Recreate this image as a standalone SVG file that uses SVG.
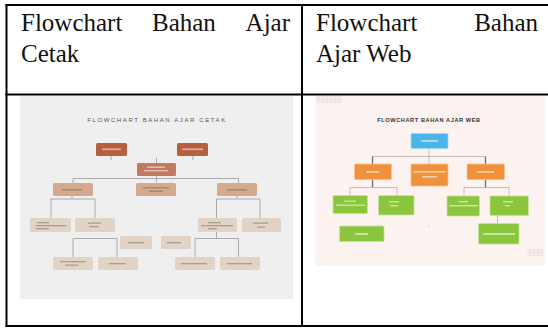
<svg xmlns="http://www.w3.org/2000/svg" width="548" height="329" viewBox="0 0 548 329">
  <style>
    .hd { font-family: "Liberation Serif", "Times New Roman", serif; font-size: 25px; fill: #111; }
    .rule { stroke: #000; stroke-width: 2; fill: none; }
    .ttl { font-family: "Liberation Sans", Arial, sans-serif; font-size: 6px; letter-spacing: 1.6px; fill: #555; text-anchor: middle; }
    .ttlw { font-family: "Liberation Sans", Arial, sans-serif; font-size: 5.6px; font-weight: bold; letter-spacing: 0.6px; fill: #333; text-anchor: middle; }
    .c1 { fill: #b5603f; }
    .c2 { fill: #c27a60; }
    .c3 { fill: #d5a98e; }
    .c4 { fill: #e2d3c7; }
    .lnk { stroke: #9a9a9a; stroke-width: 0.8; fill: none; }
    .lnkw { stroke: #b9b0ad; stroke-width: 0.8; fill: none; }
    .lnkd { stroke: #6a6a6a; stroke-width: 1.2; fill: none; }
    .blue { fill: #4db4e8; stroke: #9fd8f3; stroke-width: 0.8; }
    .orng { fill: #f0913c; stroke: #f7c08e; stroke-width: 0.8; }
    .grn { fill: #8cc63f; stroke: #c5e39b; stroke-width: 0.8; }
    .lbl { fill: #fff; opacity: 0.55; }
    .lbld { fill: #6d5a50; opacity: 0.45; }
    .grid { fill: none; stroke: #d6d0ce; stroke-width: 0.5; }
  </style>

  <!-- table frame -->
  <g id="table">
    <line class="rule" x1="5.5" y1="5" x2="548" y2="5"/>
    <line class="rule" x1="5.5" y1="94.5" x2="548" y2="94.5"/>
    <line class="rule" x1="5.5" y1="326" x2="548" y2="326"/>
    <line class="rule" x1="6.5" y1="4" x2="6.5" y2="327"/>
    <line class="rule" x1="302" y1="4" x2="302" y2="327"/>
  </g>

  <!-- column headings -->
  <g id="head-cetak">
    <text class="hd" x="21" y="31">Flowchart</text>
    <text class="hd" x="152" y="31">Bahan</text>
    <text class="hd" x="290" y="31" text-anchor="end">Ajar</text>
    <text class="hd" x="21" y="62">Cetak</text>
  </g>
  <g id="head-web">
    <text class="hd" x="316" y="31">Flowchart</text>
    <text class="hd" x="538" y="31" text-anchor="end">Bahan</text>
    <text class="hd" x="316" y="62">Ajar Web</text>
  </g>

  <!-- ===== print flowchart ===== -->
  <g id="cetak">
    <rect x="20" y="96" width="273" height="203" fill="#efefef"/>
    <text class="ttl" x="157" y="122">FLOWCHART BAHAN AJAR CETAK</text>

    <g id="cetak-links">
      <path class="lnk" d="M111 156 V160 M193 156 V160"/>
      <path class="lnk" d="M156.5 158 V182"/>
      <path class="lnk" d="M73 178.5 H238.5 M73 178.5 V183 M238.5 178.5 V183"/>
      <path class="lnk" d="M72 196 V199 M51 199 H95 M51 199 V218 M95 199 V218"/>
      <path class="lnk" d="M237 196 V199 M216.5 199 H260 M216.5 199 V218 M260 199 V218"/>
      <path class="lnk" d="M73 238.5 H117 M73 238.5 V257 M117 238.5 V257"/>
      <path class="lnk" d="M216.5 232 V238.5 M195 238.5 H238.5 M195 238.5 V257 M238.5 238.5 V257"/>
    </g>

    <g id="c-n1"><rect class="c1" x="96" y="143" width="31" height="13" rx="1.5"/><rect class="lbl" x="102" y="148.5" width="19" height="1.6"/></g>
    <g id="c-n2"><rect class="c1" x="177" y="143" width="31" height="13" rx="1.5"/><rect class="lbl" x="182" y="148.5" width="21" height="1.6"/></g>
    <g id="c-n3"><rect class="c2" x="137" y="163" width="39" height="13" rx="1.5"/><rect class="lbl" x="147" y="166.5" width="18" height="1.4"/><rect class="lbl" x="144" y="170" width="24" height="1.4"/></g>
    <g id="c-n4"><rect class="c3" x="53" y="183" width="40" height="13" rx="1.5"/><rect class="lbld" x="62" y="189" width="20" height="1.5"/></g>
    <g id="c-n5"><rect class="c3" x="136" y="183" width="40" height="13" rx="1.5"/><rect class="lbld" x="143" y="187" width="26" height="1.4"/><rect class="lbld" x="149" y="190.5" width="14" height="1.4"/></g>
    <g id="c-n6"><rect class="c3" x="217" y="183" width="40" height="13" rx="1.5"/><rect class="lbld" x="227" y="189" width="20" height="1.5"/></g>
    <g id="c-n7"><rect class="c4" x="30" y="218" width="41" height="14" rx="1.5"/><rect class="lbld" x="37" y="222" width="12" height="1.3"/><rect class="lbld" x="36" y="225" width="30" height="1.3"/><rect class="lbld" x="36" y="228" width="13" height="1.3"/></g>
    <g id="c-n8"><rect class="c4" x="75" y="218" width="40" height="14" rx="1.5"/><rect class="lbld" x="88" y="222.5" width="13" height="1.3"/><rect class="lbld" x="89" y="226" width="10" height="1.3"/></g>
    <g id="c-n9"><rect class="c4" x="198" y="218" width="39" height="14" rx="1.5"/><rect class="lbld" x="208" y="222" width="13" height="1.3"/><rect class="lbld" x="201" y="225" width="32" height="1.3"/><rect class="lbld" x="208" y="228" width="9" height="1.3"/></g>
    <g id="c-n10"><rect class="c4" x="242" y="218" width="39" height="14" rx="1.5"/><rect class="lbld" x="253" y="222.5" width="15" height="1.3"/><rect class="lbld" x="257" y="226.5" width="8" height="1.3"/></g>
    <g id="c-n11"><rect class="c4" x="120" y="236" width="32" height="13" rx="1.5"/><rect class="lbld" x="128" y="242" width="16" height="1.4"/></g>
    <g id="c-n12"><rect class="c4" x="161" y="236" width="30" height="13" rx="1.5"/><rect class="lbld" x="167" y="242" width="14" height="1.4"/></g>
    <g id="c-n13"><rect class="c4" x="53" y="257" width="40" height="13" rx="1.5"/><rect class="lbld" x="60" y="261" width="26" height="1.3"/><rect class="lbld" x="65" y="264.5" width="13" height="1.3"/></g>
    <g id="c-n14"><rect class="c4" x="98" y="257" width="40" height="13" rx="1.5"/><rect class="lbld" x="109" y="263" width="17" height="1.3"/></g>
    <g id="c-n15"><rect class="c4" x="175" y="257" width="40" height="13" rx="1.5"/><rect class="lbld" x="181" y="263" width="26" height="1.3"/></g>
    <g id="c-n16"><rect class="c4" x="220" y="257" width="40" height="13" rx="1.5"/><rect class="lbld" x="227" y="263" width="25" height="1.3"/></g>
  </g>

  <!-- ===== web flowchart ===== -->
  <g id="web">
    <rect x="315" y="96" width="230" height="170" fill="#fcf2ef"/>
    <g id="web-deco">
      <path class="grid" d="M316 97 H342 M316 99.5 H342 M316 102 H342 M319 96.5 V102.5 M323 96.5 V102.5 M327 96.5 V102.5 M331 96.5 V102.5 M335 96.5 V102.5 M339 96.5 V102.5"/>
      <path class="grid" d="M527 250 H543 M527 252.5 H543 M527 255 H543 M530 249.5 V255.5 M534 249.5 V255.5 M538 249.5 V255.5 M542 249.5 V255.5"/>
    </g>
    <text class="ttlw" x="429" y="122">FLOWCHART BAHAN AJAR WEB</text>

    <g id="web-links">
      <path class="lnkw" d="M429 148.5 V164"/>
      <path class="lnkw" d="M372 156.5 H486"/>
      <path class="lnkd" d="M372.5 156.5 V188"/>
      <path class="lnkd" d="M485.5 156.5 V188"/>
      <path class="lnkw" d="M350 187.5 H397 M350 187.5 V195 M397 187.5 V195"/>
      <path class="lnkw" d="M464 187.5 H509 M464 187.5 V196 M509 187.5 V196"/>
      <path class="lnkw" d="M497.5 216 V223"/>
    </g>

    <g id="w-top"><rect class="blue" x="411" y="133.5" width="37" height="15" rx="1"/><rect class="lbl" x="421" y="140" width="17" height="1.8"/></g>
    <g id="w-o1"><rect class="orng" x="354.5" y="164" width="37" height="15.5" rx="1"/><rect class="lbl" x="366" y="171" width="13" height="1.8"/></g>
    <g id="w-o2"><rect class="orng" x="411" y="164" width="37" height="22" rx="1"/><rect class="lbl" x="413.5" y="171" width="32" height="1.6"/><rect class="lbl" x="422" y="176" width="15" height="1.6"/></g>
    <g id="w-o3"><rect class="orng" x="467" y="164" width="37.5" height="15.5" rx="1"/><rect class="lbl" x="477" y="171" width="17" height="1.8"/></g>
    <g id="w-g1"><rect class="grn" x="333" y="195.5" width="34.5" height="18" rx="1"/><rect class="lbl" x="344" y="200.5" width="12" height="1.4"/><rect class="lbl" x="336" y="204.5" width="29" height="1.4"/></g>
    <g id="w-g2"><rect class="grn" x="378.5" y="195.5" width="35.5" height="19.5" rx="1"/><rect class="lbl" x="389" y="201" width="10" height="1.4"/><rect class="lbl" x="390" y="205" width="8" height="1.4"/></g>
    <g id="w-g3"><rect class="grn" x="447" y="196" width="32.5" height="20" rx="1"/><rect class="lbl" x="459" y="201" width="9" height="1.4"/><rect class="lbl" x="449" y="205" width="29" height="1.4"/></g>
    <g id="w-g4"><rect class="grn" x="490" y="196" width="38.5" height="19.5" rx="1"/><rect class="lbl" x="503" y="201" width="10" height="1.4"/><rect class="lbl" x="505" y="205" width="5" height="1.4"/></g>
    <g id="w-g5"><rect class="grn" x="339.5" y="226" width="44.5" height="15.5" rx="1"/><rect class="lbl" x="355" y="233" width="13" height="1.8"/></g>
    <g id="w-g6"><rect class="grn" x="478.5" y="223.5" width="40.5" height="20.5" rx="1"/><rect class="lbl" x="483" y="233" width="32" height="1.9"/></g>
    <circle cx="429" cy="226" r="0.6" fill="#aaa"/>
  </g>
</svg>
